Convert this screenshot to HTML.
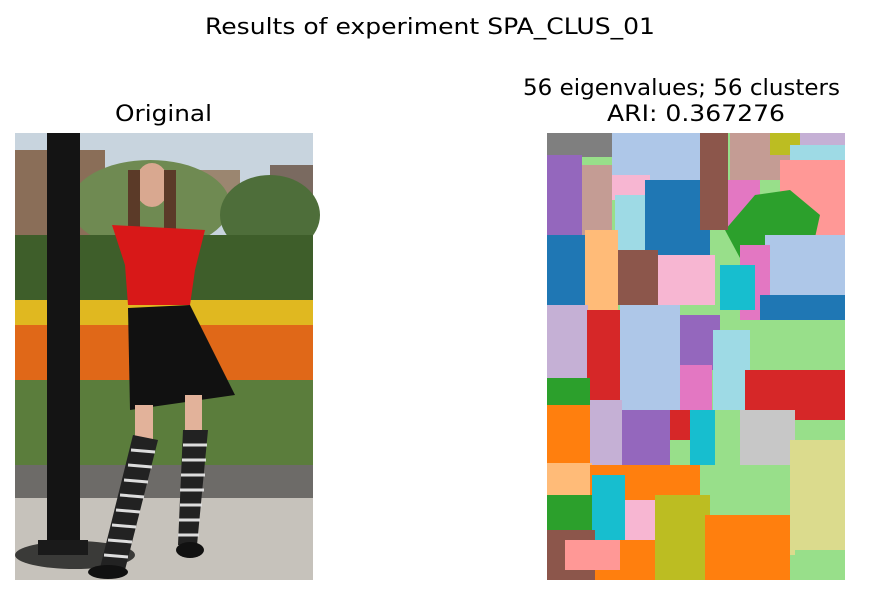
<!DOCTYPE html>
<html><head><meta charset="utf-8"><style>
body{margin:0;background:#fff;width:883px;height:595px;overflow:hidden;font-family:"DejaVu Sans","Liberation Sans",sans-serif}
svg{position:absolute;left:0;top:0}
</style></head><body>
<svg width="883" height="595">
<text x="205" y="34" font-size="22" textLength="450" lengthAdjust="spacingAndGlyphs" fill="#000">Results of experiment SPA_CLUS_01</text>
<text x="115" y="121" font-size="22" textLength="97" lengthAdjust="spacingAndGlyphs">Original</text>
<text x="523" y="95" font-size="22" textLength="317" lengthAdjust="spacingAndGlyphs">56 eigenvalues; 56 clusters</text>
<text x="607" y="121" font-size="22" textLength="178" lengthAdjust="spacingAndGlyphs">ARI: 0.367276</text>
<g>
<rect x="15" y="133" width="298" height="447" fill="#c8d4de"/>
<rect x="15" y="150" width="90" height="95" fill="#8a6e58"/>
<rect x="180" y="170" width="60" height="50" fill="#9b8670"/>
<rect x="270" y="165" width="43" height="55" fill="#7a6a60"/>
<ellipse cx="150" cy="205" rx="80" ry="45" fill="#6f8a52"/>
<ellipse cx="270" cy="215" rx="50" ry="40" fill="#4e6e3a"/>
<rect x="15" y="235" width="298" height="75" fill="#3e5e2a"/>
<rect x="15" y="300" width="298" height="30" fill="#e0b820"/>
<rect x="15" y="325" width="298" height="60" fill="#e06818"/>
<rect x="15" y="380" width="298" height="88" fill="#5b7d3c"/>
<rect x="15" y="465" width="298" height="35" fill="#6d6b68"/>
<rect x="15" y="498" width="298" height="82" fill="#c6c2bb"/>
<ellipse cx="75" cy="555" rx="60" ry="14" fill="#3a3a38"/>
<rect x="47" y="133" width="33" height="420" fill="#141414"/>
<rect x="38" y="540" width="50" height="15" fill="#1a1a1a"/>
<ellipse cx="152" cy="185" rx="17" ry="22" fill="#d9a890"/>
<rect x="128" y="170" width="12" height="60" fill="#5b3a28"/>
<rect x="164" y="170" width="12" height="60" fill="#5b3a28"/>
<path d="M112 225 L205 230 L195 270 L190 305 L128 305 L125 265 Z" fill="#d81818"/>
<path d="M128 308 L190 305 L235 395 L130 410 Z" fill="#111"/>
<rect x="135" y="405" width="18" height="35" fill="#e2b29a"/>
<rect x="185" y="395" width="17" height="40" fill="#e2b29a"/>
<path d="M133 435 L158 440 L125 570 L100 568 Z" fill="#222"/>
<path d="M183 430 L208 430 L197 545 L178 545 Z" fill="#222"/>
<g stroke="#ddd" stroke-width="3">
<line x1="131" y1="450" x2="155" y2="452"/><line x1="128" y1="465" x2="152" y2="467"/><line x1="124" y1="480" x2="148" y2="482"/><line x1="120" y1="495" x2="144" y2="497"/><line x1="116" y1="510" x2="140" y2="512"/><line x1="112" y1="525" x2="136" y2="527"/><line x1="108" y1="540" x2="132" y2="542"/><line x1="104" y1="555" x2="128" y2="557"/>
<line x1="183" y1="445" x2="207" y2="445"/><line x1="182" y1="460" x2="206" y2="460"/><line x1="181" y1="475" x2="205" y2="475"/><line x1="180" y1="490" x2="204" y2="490"/><line x1="180" y1="505" x2="202" y2="505"/><line x1="179" y1="520" x2="200" y2="520"/><line x1="178" y1="535" x2="199" y2="535"/>
</g>
<ellipse cx="108" cy="572" rx="20" ry="7" fill="#111"/>
<ellipse cx="190" cy="550" rx="14" ry="8" fill="#111"/>
</g>
<g>
<rect x="547" y="133" width="298" height="447" fill="#98df8a"/>
<rect x="547" y="133" width="65" height="24" fill="#7f7f7f"/>
<rect x="612" y="133" width="88" height="47" fill="#aec7e8"/>
<rect x="730" y="133" width="60" height="47" fill="#c49c94"/>
<rect x="770" y="133" width="40" height="22" fill="#bcbd22"/>
<rect x="800" y="133" width="45" height="12" fill="#c5b0d5"/>
<rect x="790" y="145" width="55" height="20" fill="#9edae5"/>
<rect x="780" y="160" width="65" height="80" fill="#ff9896"/>
<rect x="547" y="155" width="35" height="80" fill="#9467bd"/>
<rect x="582" y="165" width="30" height="75" fill="#c49c94"/>
<rect x="612" y="175" width="38" height="25" fill="#f7b6d2"/>
<rect x="615" y="195" width="30" height="55" fill="#9edae5"/>
<rect x="645" y="180" width="65" height="80" fill="#1f77b4"/>
<rect x="725" y="180" width="35" height="50" fill="#e377c2"/>
<path d="M725 230 L755 195 L790 190 L820 215 L810 260 L740 258 Z" fill="#2ca02c"/>
<rect x="700" y="133" width="28" height="97" fill="#8c564b"/>
<rect x="547" y="235" width="38" height="75" fill="#1f77b4"/>
<rect x="585" y="230" width="33" height="80" fill="#ffbb78"/>
<rect x="618" y="250" width="40" height="55" fill="#8c564b"/>
<rect x="658" y="255" width="57" height="50" fill="#f7b6d2"/>
<rect x="765" y="235" width="80" height="70" fill="#aec7e8"/>
<rect x="740" y="245" width="30" height="75" fill="#e377c2"/>
<rect x="720" y="265" width="35" height="45" fill="#17becf"/>
<rect x="760" y="295" width="85" height="40" fill="#1f77b4"/>
<rect x="547" y="305" width="41" height="75" fill="#c5b0d5"/>
<rect x="587" y="310" width="33" height="90" fill="#d62728"/>
<rect x="620" y="305" width="60" height="105" fill="#aec7e8"/>
<rect x="680" y="315" width="40" height="55" fill="#9467bd"/>
<rect x="713" y="330" width="50" height="80" fill="#9edae5"/>
<rect x="750" y="320" width="95" height="50" fill="#98df8a"/>
<rect x="745" y="370" width="100" height="50" fill="#d62728"/>
<rect x="680" y="365" width="32" height="45" fill="#e377c2"/>
<rect x="547" y="378" width="43" height="27" fill="#2ca02c"/>
<rect x="547" y="405" width="43" height="60" fill="#ff7f0e"/>
<rect x="590" y="400" width="32" height="75" fill="#c5b0d5"/>
<rect x="622" y="410" width="48" height="55" fill="#9467bd"/>
<rect x="670" y="410" width="22" height="30" fill="#d62728"/>
<rect x="690" y="410" width="25" height="55" fill="#17becf"/>
<rect x="740" y="410" width="55" height="55" fill="#c7c7c7"/>
<rect x="790" y="440" width="55" height="115" fill="#dbdb8d"/>
<rect x="547" y="463" width="45" height="32" fill="#ffbb78"/>
<rect x="590" y="465" width="110" height="45" fill="#ff7f0e"/>
<rect x="592" y="475" width="33" height="65" fill="#17becf"/>
<rect x="547" y="495" width="45" height="35" fill="#2ca02c"/>
<rect x="547" y="530" width="48" height="50" fill="#8c564b"/>
<rect x="625" y="500" width="30" height="45" fill="#f7b6d2"/>
<rect x="595" y="540" width="65" height="40" fill="#ff7f0e"/>
<rect x="565" y="540" width="55" height="30" fill="#ff9896"/>
<rect x="655" y="495" width="55" height="85" fill="#bcbd22"/>
<rect x="705" y="515" width="85" height="65" fill="#ff7f0e"/>
<rect x="795" y="550" width="50" height="30" fill="#98df8a"/>
</g>
</svg>
</body></html>
